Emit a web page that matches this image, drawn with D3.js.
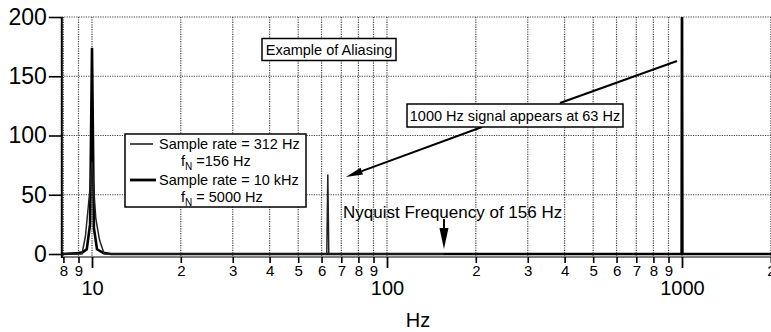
<!DOCTYPE html>
<html>
<head>
<meta charset="utf-8">
<script src="https://cdn.jsdelivr.net/npm/d3@7"></script>
<style>
body { margin: 0; background: #fff; }
svg { display: block; font-family: "Liberation Sans", Arial, sans-serif; }
</style>
</head>
<body>
<script>
const width = 771;
const height = 332;

// sample rate 312 Hz (thin line), ends at Nyquist 156 Hz
const freqSlow = [7.9, 9.0, 9.25, 9.5, 9.8, 10.0, 10.3, 10.6, 11.0, 11.5, 12.5, 61.5, 62.5, 63.0, 63.5, 64.5, 156];
const ampSlow  = [0,   0,   0,    15,  50,  78,   30,   12,   0,    0,    0,    0,    0,    67,   0,    0,    0];

// sample rate 10 kHz (thick line)
const freqFast = [7.9, 8.8, 9.3, 9.6, 9.85, 10.0, 10.15, 10.4, 10.9, 11.6, 990, 997, 1000, 1003, 1010, 2400];
const ampFast  = [0,   0.5, 1.5, 4,   25,   174,  22,    4,    1,    0,    0,   0,   240,  0,    0,    0];

const yTicks = [0, 50, 100, 150, 200];
const minorTicks = [8, 9, 20, 30, 40, 50, 60, 70, 80, 90, 200, 300, 400, 500, 600, 700, 800, 900, 2000];
const majorTicks = [10, 100, 1000];

let svg = d3.select("body").append("svg")
    .attr("width", width)
    .attr("height", height);

// log x scale: 10 -> 92, 1000 -> 682
let x = d3.scaleLog().domain([10, 1000]).range([92, 682]);
let y = d3.scaleLinear().domain([0, 200]).range([254, 17]);

const plotLeft = x(7.9);
const plotTop = y(200);
const axisY = 257;

svg.append("clipPath").attr("id", "plot")
    .append("rect")
    .attr("x", plotLeft).attr("y", plotTop)
    .attr("width", width - plotLeft).attr("height", axisY - plotTop);

// grid
let allTicks = minorTicks.concat(majorTicks).sort((a, b) => a - b);
svg.append("g").selectAll("line")
    .data(allTicks)
    .enter().append("line")
    .attr("x1", d => x(d)).attr("x2", d => x(d))
    .attr("y1", plotTop).attr("y2", axisY)
    .attr("stroke", "#444")
    .attr("stroke-width", 1.2)
    .attr("stroke-dasharray", "1.2,1.2");

svg.append("g").selectAll("line")
    .data(yTicks.filter(d => d > 0))
    .enter().append("line")
    .attr("x1", plotLeft).attr("x2", width)
    .attr("y1", d => y(d)).attr("y2", d => y(d))
    .attr("stroke", "#444")
    .attr("stroke-width", 1.2)
    .attr("stroke-dasharray", "1.2,1.2");

// data lines
let line = d3.line().x(d => x(d[0])).y(d => y(d[1]));
let plot = svg.append("g").attr("clip-path", "url(#plot)");

plot.append("path")
    .datum(d3.zip(freqFast, ampFast))
    .attr("d", line)
    .attr("fill", "none")
    .attr("stroke", "#000")
    .attr("stroke-width", 2.6);

plot.append("path")
    .datum(d3.zip(freqSlow, ampSlow))
    .attr("d", line)
    .attr("fill", "none")
    .attr("stroke", "#222")
    .attr("stroke-width", 1.5);

// axes
svg.append("line")
    .attr("x1", plotLeft).attr("x2", width)
    .attr("y1", axisY).attr("y2", axisY)
    .attr("stroke", "#555").attr("stroke-width", 1.6);
svg.append("line")
    .attr("x1", plotLeft).attr("x2", plotLeft)
    .attr("y1", plotTop).attr("y2", axisY + 1)
    .attr("stroke", "#000").attr("stroke-width", 2);

let yAxis = svg.append("g")
    .attr("transform", `translate(${plotLeft},0)`)
    .call(d3.axisLeft(y).tickValues(yTicks).tickSize(13).tickPadding(2));
yAxis.select(".domain").remove();
yAxis.selectAll("line").attr("stroke-width", 1.6);
yAxis.selectAll("text").attr("font-size", 23).attr("fill", "#000").attr("font-family", "Liberation Sans, Arial, sans-serif");

let xMinor = svg.append("g")
    .attr("transform", `translate(0,${axisY})`)
    .call(d3.axisBottom(x).tickValues(minorTicks).tickSize(6).tickPadding(2)
        .tickFormat(d => String(d)[0]));
xMinor.select(".domain").remove();
xMinor.selectAll("line").attr("stroke-width", 1.6);
xMinor.selectAll("text").attr("font-size", 15).attr("fill", "#000").attr("font-family", "Liberation Sans, Arial, sans-serif");

let xMajor = svg.append("g")
    .attr("transform", `translate(0,${axisY})`)
    .call(d3.axisBottom(x).tickValues(majorTicks).tickSize(11).tickPadding(13)
        .tickFormat(d3.format("d")));
xMajor.select(".domain").remove();
xMajor.selectAll("line").attr("stroke-width", 1.8);
xMajor.selectAll("text").attr("font-size", 20).attr("fill", "#000").attr("font-family", "Liberation Sans, Arial, sans-serif");

svg.append("text")
    .attr("x", 418).attr("y", 327)
    .attr("text-anchor", "middle")
    .attr("font-size", 20)
    .text("Hz");

// arrows
function arrow(x1, y1, x2, y2, len, w) {
    let g = svg.append("g");
    let a = Math.atan2(y2 - y1, x2 - x1);
    let bx = x2 - len * Math.cos(a), by = y2 - len * Math.sin(a);
    g.append("line")
        .attr("x1", x1).attr("y1", y1).attr("x2", bx).attr("y2", by)
        .attr("stroke", "#000").attr("stroke-width", 2);
    if (len > 0) {
        let px = -Math.sin(a) * w / 2, py = Math.cos(a) * w / 2;
        g.append("path")
            .attr("d", `M${x2},${y2}L${bx + px},${by + py}L${bx - px},${by - py}Z`)
            .attr("fill", "#000");
    }
}

arrow(677, 61, 560, 103, 0, 0);
arrow(482, 127, x(63) + 18, 177, 17, 7);
arrow(x(156), 219, x(156), 249, 21, 9);

// annotation boxes
function box(cx, cy, w, h, txt, size) {
    svg.append("rect")
        .attr("x", cx - w / 2).attr("y", cy - h / 2)
        .attr("width", w).attr("height", h)
        .attr("fill", "#fff").attr("stroke", "#000").attr("stroke-width", 1.5);
    svg.append("text")
        .attr("x", cx).attr("y", cy + size * 0.36)
        .attr("text-anchor", "middle")
        .attr("font-size", size)
        .text(txt);
}

box(329, 49.5, 134, 22, "Example of Aliasing", 14.5);
box(515, 115.5, 216, 23, "1000 Hz signal appears at 63 Hz", 14.5);

svg.append("text")
    .attr("x", 343).attr("y", 218)
    .attr("font-size", 17)
    .text("Nyquist Frequency of 156 Hz");

// legend
let lg = svg.append("g");
lg.append("rect")
    .attr("x", 125).attr("y", 134)
    .attr("width", 181).attr("height", 73)
    .attr("fill", "#fff").attr("stroke", "#000").attr("stroke-width", 1.5);
lg.append("line")
    .attr("x1", 130).attr("x2", 153).attr("y1", 144).attr("y2", 144)
    .attr("stroke", "#000").attr("stroke-width", 1.4);
lg.append("line")
    .attr("x1", 130).attr("x2", 156).attr("y1", 180).attr("y2", 180)
    .attr("stroke", "#000").attr("stroke-width", 2.8);
lg.append("text").attr("x", 159).attr("y", 149).attr("font-size", 14.5)
    .text("Sample rate = 312 Hz");
lg.append("text").attr("x", 159).attr("y", 185).attr("font-size", 14.5)
    .text("Sample rate = 10 kHz");

let t1 = lg.append("text").attr("x", 181).attr("y", 166).attr("font-size", 14.5);
t1.append("tspan").text("f");
t1.append("tspan").attr("font-size", 10).attr("dy", 4).text("N");
t1.append("tspan").attr("dy", -4).text(" =156 Hz");

let t2 = lg.append("text").attr("x", 181).attr("y", 202).attr("font-size", 14.5);
t2.append("tspan").text("f");
t2.append("tspan").attr("font-size", 10).attr("dy", 4).text("N");
t2.append("tspan").attr("dy", -4).text(" = 5000 Hz");
</script>
</body>
</html>
